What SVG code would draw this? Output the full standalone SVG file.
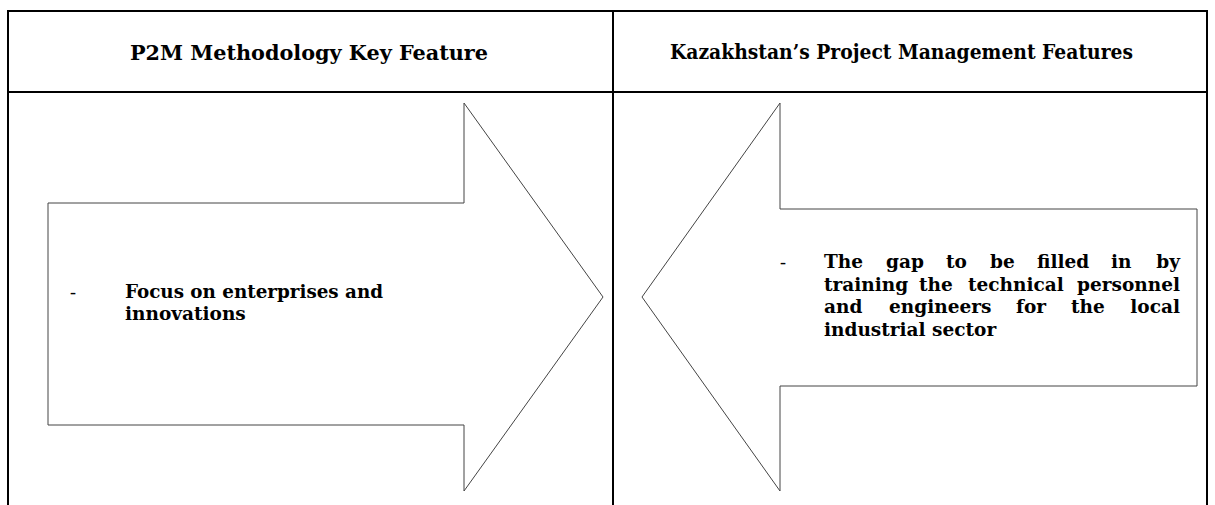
<svg xmlns="http://www.w3.org/2000/svg" width="1215" height="505" viewBox="0 0 1215 505">
<style>
.grid{stroke:#000;stroke-width:2;fill:none}
.arrow{fill:#fff;stroke:#444;stroke-width:1}
text{font-family:"DejaVu Serif","Liberation Serif",serif;font-weight:bold;fill:#000}
.h{font-size:20px;text-anchor:middle}
.b{font-size:18.5px}
.d{font-family:"Liberation Serif",serif;font-weight:normal;font-size:18px}
.e{text-anchor:end}
</style>
<rect width="1215" height="505" fill="#fff"/>
<g id="table">
<path class="grid" d="M8,505 V11 H1207 V505 M8,92 H1207 M613,11 V505"/>
</g>
<g id="header-left"><text class="h" x="309" y="60" textLength="358" lengthAdjust="spacingAndGlyphs">P2M Methodology Key Feature</text></g>
<g id="header-right"><text class="h" x="901.5" y="59" textLength="463" lengthAdjust="spacingAndGlyphs">Kazakhstan’s Project Management Features</text></g>
<g id="connectors">
<path id="arrow-right" class="arrow" d="M48,203 H464 V103 L603,297 L464,491 V425 H48 Z"/>
<path id="arrow-left" class="arrow" d="M1197,209 H780 V103 L642,297 L780,491 V386 H1197 Z"/>
</g>
<g id="node-left">
<text class="d" x="70" y="298">-</text>
<text class="b" x="125" y="298" textLength="258" lengthAdjust="spacingAndGlyphs">Focus on enterprises and</text>
<text class="b" x="125" y="320">innovations</text>
</g>
<g id="node-right">
<text class="d" x="780" y="268">-</text>
<text class="b" y="268"><tspan x="824">The</tspan><tspan x="886">gap</tspan><tspan x="946">to</tspan><tspan x="990">be</tspan><tspan x="1037">filled</tspan><tspan x="1111">in</tspan></text>
<text class="b e" x="1180" y="268">by</text>
<text class="b" y="291"><tspan x="824">training</tspan><tspan x="919">the</tspan><tspan x="968">technical</tspan></text>
<text class="b e" x="1180" y="291">personnel</text>
<text class="b" y="313"><tspan x="824">and</tspan><tspan x="889">engineers</tspan><tspan x="1016">for</tspan><tspan x="1071">the</tspan></text>
<text class="b e" x="1180" y="313">local</text>
<text class="b" x="824" y="336">industrial sector</text>
</g>
</svg>
